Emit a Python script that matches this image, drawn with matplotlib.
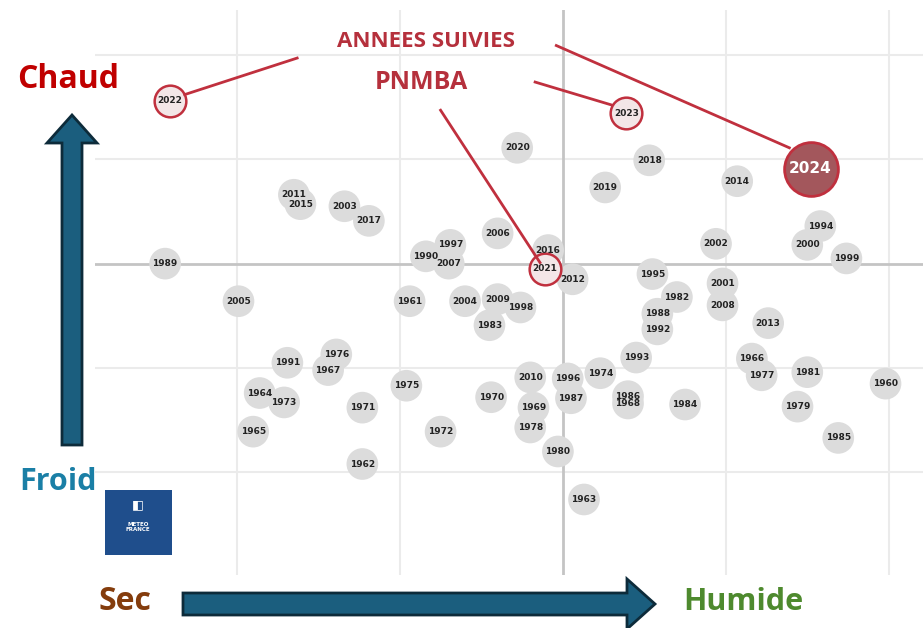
import numpy as np
import matplotlib
matplotlib.use("Agg")
import matplotlib.pyplot as plt
from matplotlib.patches import FancyArrow, Rectangle

# years and their position (x: dry -> wet, y: cold -> hot)
years = [2022, 2023, 2024, 2020, 2018, 2019, 2014, 2011, 2015, 2003,
         2017, 2006, 1997, 1990, 2007, 2016, 2021, 2012, 1989, 1995,
         2002, 1994, 2000, 1999, 2001, 1982, 2008, 1988, 1992, 2013,
         2005, 1961, 2004, 2009, 1998, 1983, 1976, 1991, 1967, 1993,
         1966, 1977, 1981, 1960, 1975, 1964, 1973, 1971, 2010, 1996,
         1974, 1970, 1969, 1987, 1986, 1968, 1984, 1979, 1965, 1972,
         1978, 1980, 1985, 1962, 1963]
x = [-2.41, 0.39, 1.52, -0.28, 0.53, 0.26, 1.07, -1.65, -1.61, -1.34,
     -1.19, -0.40, -0.69, -0.84, -0.70, -0.09, -0.11, 0.06, -2.44, 0.55,
     0.94, 1.58, 1.50, 1.74, 0.98, 0.70, 0.98, 0.58, 0.58, 1.26,
     -1.99, -0.94, -0.60, -0.40, -0.26, -0.45, -1.39, -1.69, -1.44, 0.45,
     1.16, 1.22, 1.50, 1.98, -0.96, -1.86, -1.71, -1.23, -0.20, 0.03,
     0.23, -0.44, -0.18, 0.05, 0.40, 0.40, 0.75, 1.44, -1.90, -0.75,
     -0.20, -0.03, 1.69, -1.23, 0.13]
y = [1.56, 1.44, 0.91, 1.11, 0.99, 0.73, 0.79, 0.66, 0.57, 0.55,
     0.41, 0.29, 0.18, 0.07, 0.00, 0.13, -0.05, -0.15, 0.00, -0.10,
     0.19, 0.36, 0.18, 0.05, -0.19, -0.32, -0.40, -0.48, -0.63, -0.57,
     -0.36, -0.36, -0.36, -0.34, -0.42, -0.59, -0.87, -0.95, -1.02, -0.90,
     -0.91, -1.07, -1.04, -1.15, -1.17, -1.24, -1.33, -1.38, -1.09, -1.10,
     -1.05, -1.28, -1.38, -1.29, -1.27, -1.34, -1.35, -1.37, -1.61, -1.61,
     -1.57, -1.80, -1.67, -1.92, -2.26]

followed = [2021, 2022, 2023]
current = 2024

red = "#c0303e"

fig = plt.figure(figsize=(9.23, 6.28), dpi=100)
ax = fig.add_axes([0.103, 0.085, 0.897, 0.899])
ax.set_xlim(-2.87, 2.21)
ax.set_ylim(-2.98, 2.43)
ax.axis("off")

# grid
for gx in [-2, -1, 1, 2]:
    ax.axvline(gx, color="#ebebeb", lw=1.5, zorder=0)
for gy in [2, 1, -1, -2]:
    ax.axhline(gy, color="#ebebeb", lw=1.5, zorder=0)
ax.axvline(0, color="#c4c4c4", lw=2, zorder=0)
ax.axhline(0, color="#c4c4c4", lw=2, zorder=0)

for yr, xi, yi in zip(years, x, y):
    if yr == current:
        ax.scatter(xi, yi, s=1500, color="#a3575c", edgecolor=red, lw=2, zorder=4)
        ax.text(xi, yi, str(yr), ha="center", va="center", fontsize=11,
                fontweight="bold", color="white", zorder=5)
    elif yr in followed:
        ax.scatter(xi, yi, s=520, color="#f3e6e7", edgecolor=red, lw=1.8, zorder=3)
        ax.text(xi, yi, str(yr), ha="center", va="center", fontsize=6.5,
                fontweight="bold", color="#222222", zorder=5)
    else:
        ax.scatter(xi, yi, s=520, color="#dcdcdc", edgecolor="none", zorder=2)
        ax.text(xi, yi, str(yr), ha="center", va="center", fontsize=6.5,
                fontweight="bold", color="#222222", zorder=5)

# annotation
ax.text(-0.84, 2.13, "ANNEES SUIVIES", ha="center", va="center", fontsize=16,
        fontweight="bold", color="#b5303c", family="Open Sans", zorder=6)
ax.text(-0.87, 1.74, "PNMBA", ha="center", va="center", fontsize=18,
        fontweight="bold", color="#b5303c", family="Open Sans", zorder=6)
for (x0, y0), (x1, y1) in [((-1.63, 1.97), (-2.32, 1.62)),
                           ((-0.04, 2.09), (1.39, 1.11)),
                           ((-0.17, 1.74), (0.30, 1.52)),
                           ((-0.75, 1.47), (-0.14, 0.01))]:
    ax.plot([x0, x1], [y0, y1], color=red, lw=2, zorder=6)

# overlay in pixel coordinates for axis arrows and labels
ov = fig.add_axes([0, 0, 1, 1], facecolor="none")
ov.set_xlim(0, 923)
ov.set_ylim(628, 0)
ov.axis("off")

ov.add_patch(FancyArrow(72, 445, 0, -330, width=20, head_width=50,
                        head_length=28, length_includes_head=True,
                        facecolor="#1b5e7e", edgecolor="#0d2b3a", lw=2))
ov.add_patch(FancyArrow(183, 604, 472, 0, width=22, head_width=50,
                        head_length=28, length_includes_head=True,
                        facecolor="#1b5e7e", edgecolor="#0d2b3a", lw=2))

ov.text(68, 80, "Chaud", ha="center", va="center", fontsize=23,
        fontweight="bold", color="#c00000", family="Open Sans")
ov.text(58, 482, "Froid", ha="center", va="center", fontsize=22,
        fontweight="bold", color="#1a7fa6", family="Open Sans")
ov.text(125, 602, "Sec", ha="center", va="center", fontsize=23,
        fontweight="bold", color="#843c0c", family="Open Sans")
ov.text(743, 602, "Humide", ha="center", va="center", fontsize=22,
        fontweight="bold", color="#4e8a2e", family="Open Sans")

# Meteo-France logo
ov.add_patch(Rectangle((105, 490), 67, 65, facecolor="#1f4e8c", edgecolor="none"))
ov.text(138, 505, "◧", ha="center", va="center", fontsize=9, color="white")
ov.text(138, 527, "METEO\nFRANCE", ha="center", va="center", fontsize=4,
        fontweight="bold", color="white", linespacing=1.0)

fig.savefig("out.png", dpi=100)
